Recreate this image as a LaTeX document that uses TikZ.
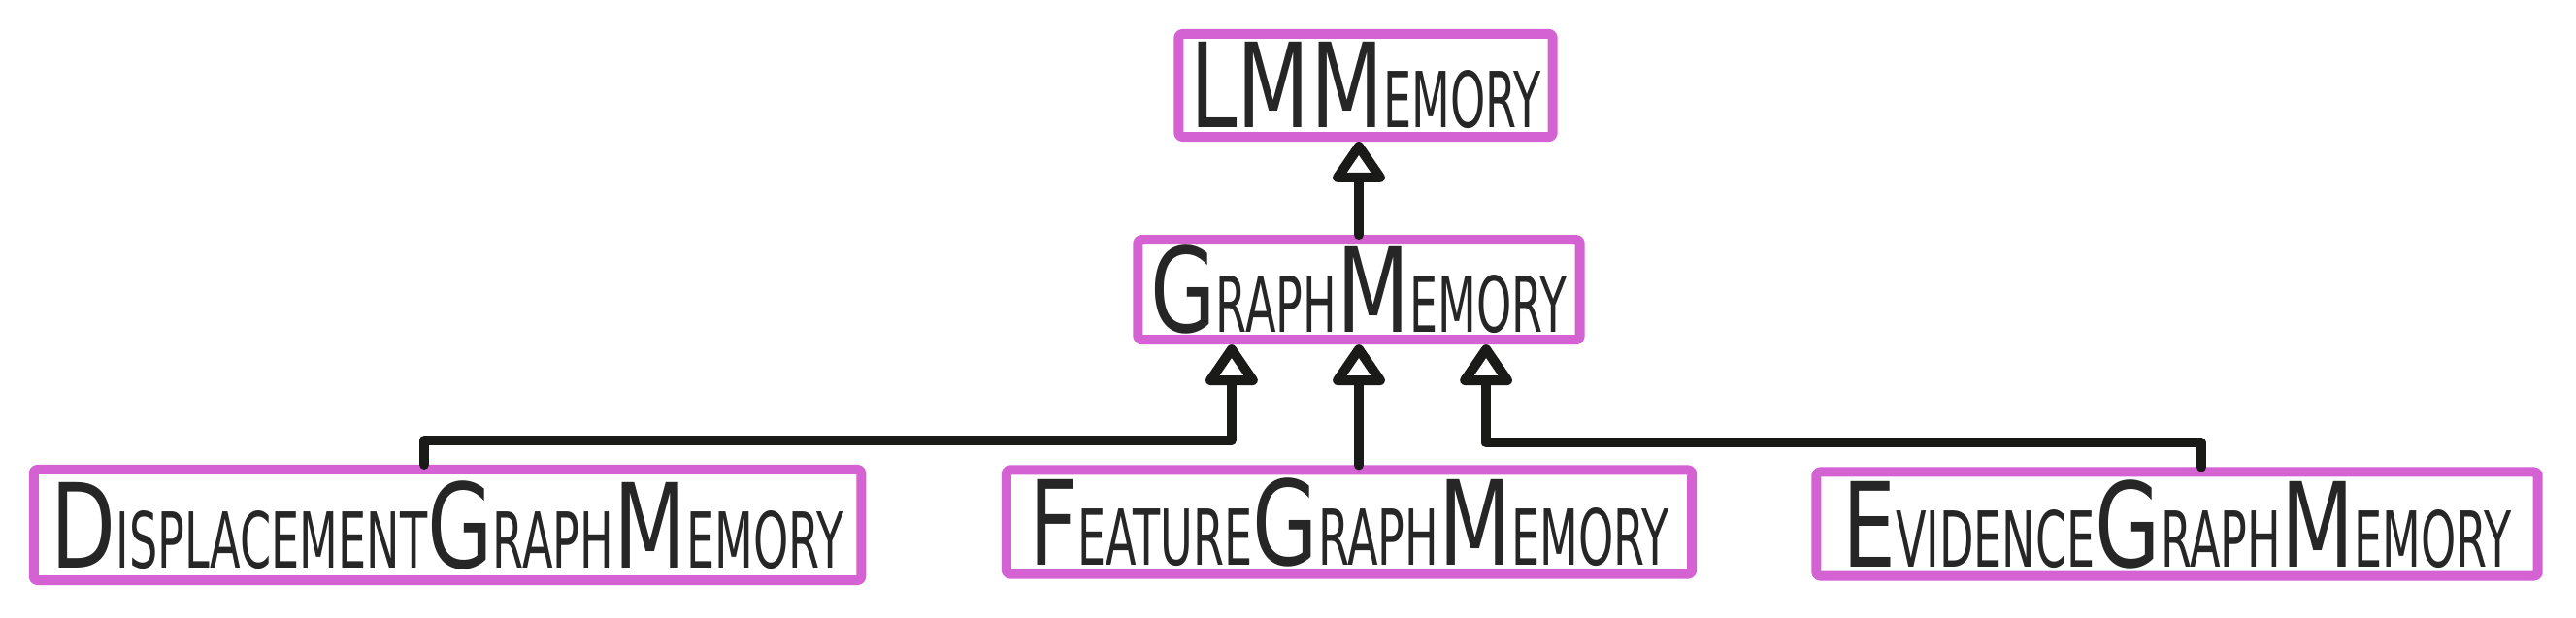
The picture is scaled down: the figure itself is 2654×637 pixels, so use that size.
\documentclass[tikz,border=0pt]{standalone}
\usepackage{fontspec}
\setmainfont{DejaVu Sans}[FakeStretch=0.58]
\newfontfamily\capfont{DejaVu Sans}[FakeStretch=0.72]
\usetikzlibrary{arrows.meta,positioning}
\definecolor{boxpink}{HTML}{D462D2}
\definecolor{inkblack}{HTML}{1A1A18}
\newcommand\BigCap[1]{{\capfont\fontsize{34.4}{36}\selectfont #1}}

\begin{document}
\begin{tikzpicture}[x=0.01cm, y=-0.01cm,
  font=\fontsize{22.6}{24}\selectfont,
  cls/.style={draw=boxpink, line width=0.1cm, line join=round, rounded corners=1pt, inner sep=0pt, text=black!85, minimum height=1.06cm},
  inh/.style={draw=inkblack, line width=0.1cm, line cap=round, line join=round, -{Triangle[open, length=0.46cm, width=0.6cm, round]}}]
\useasboundingbox (0,0) rectangle (2654,637);

\node[cls, minimum width=3.85cm] (lm) at (1407,88) {\BigCap{L}\BigCap{M}\BigCap{M}EMORY};
\node[cls, minimum width=4.55cm, minimum height=1.03cm, below=0.96cm of lm, xshift=-0.07cm] (graph) {\BigCap{G}RAPH\BigCap{M}EMORY};

\node[cls, minimum width=8.52cm, minimum height=1.14cm] (disp) at (461,541) {\BigCap{D}ISPLACEMENT\BigCap{G}RAPH\BigCap{M}EMORY};
\node[cls, minimum width=7.06cm, minimum height=1.07cm] (feat) at (1390,538) {\BigCap{F}EATURE\BigCap{G}RAPH\BigCap{M}EMORY};
\node[cls, minimum width=7.43cm, minimum height=1.07cm] (evid) at (2243,540) {\BigCap{E}VIDENCE\BigCap{G}RAPH\BigCap{M}EMORY};

\draw[inh] (graph.north) -- (graph.north |- lm.south);
\draw[inh] ([xshift=-0.24cm]disp.north) -- ++(0,0.25cm) -| ([xshift=-1.31cm]graph.south);
\draw[inh] (feat.north -| graph.south) -- (graph.south);
\draw[inh] ([xshift=0.25cm]evid.north) -- ++(0,0.25cm) -| ([xshift=1.31cm]graph.south);
\end{tikzpicture}
\end{document}
